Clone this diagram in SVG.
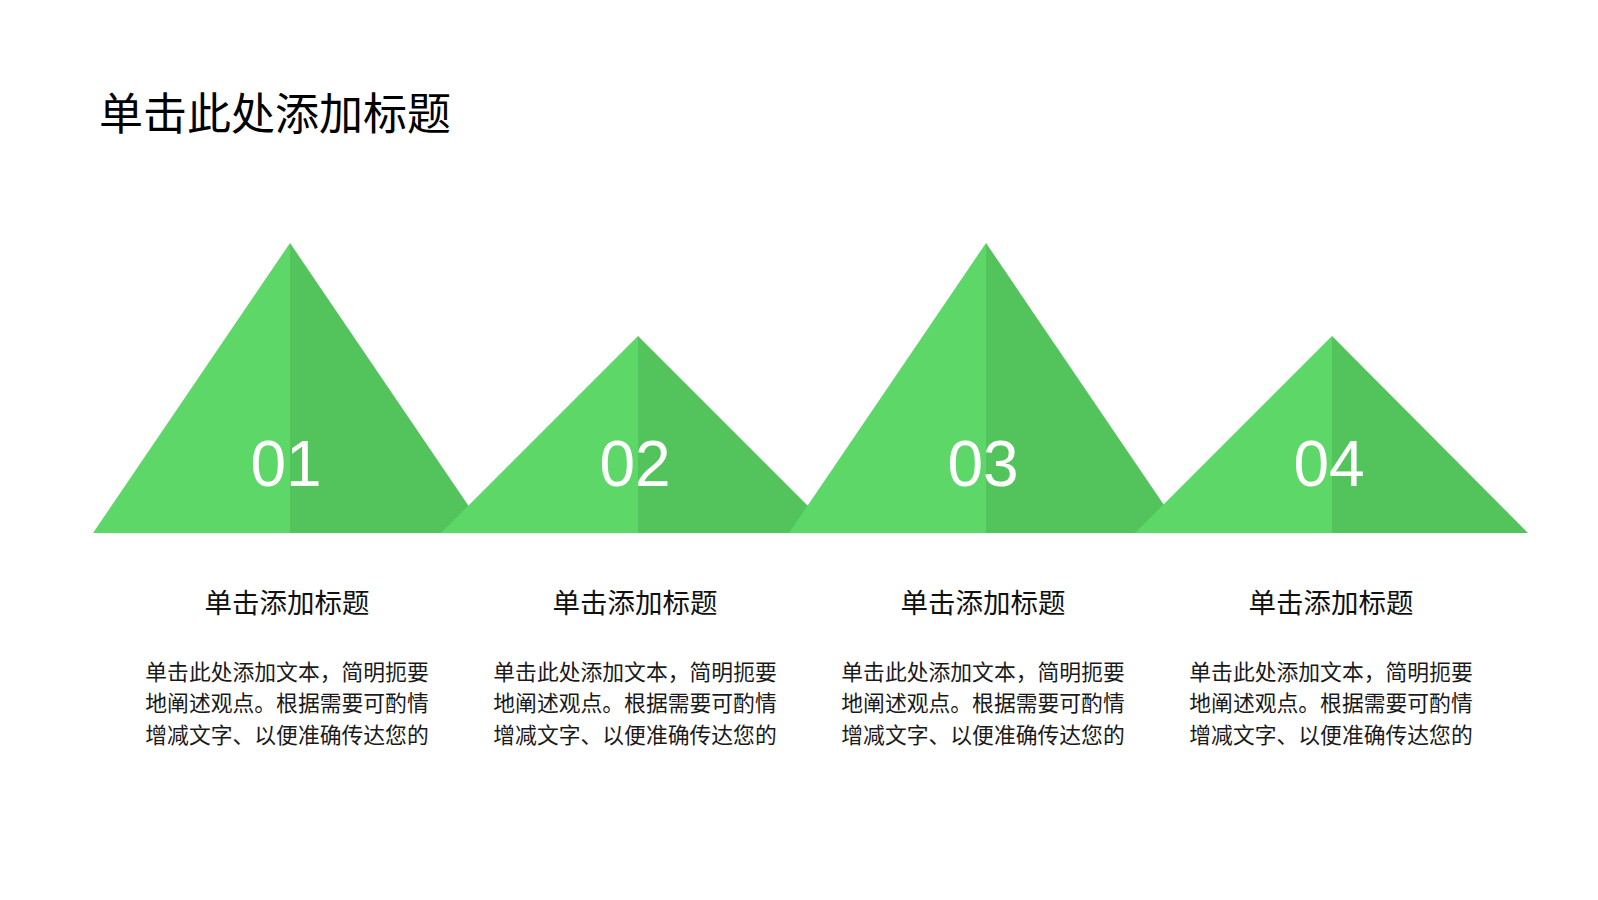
<svg xmlns="http://www.w3.org/2000/svg" width="1598" height="900" viewBox="0 0 1598 900">
<style>
.lt{fill:#5dd868}
.dk{fill:#53c45b}
.num{font-family:"Liberation Sans",Arial,sans-serif;font-size:64px;fill:#ffffff;text-anchor:middle}
.cj{font-family:"Noto Sans CJK SC","Noto Sans",sans-serif}
.title{font-size:44px;fill:#000000}
.sub{font-size:27.5px;fill:#111111;text-anchor:middle}
.body{font-size:21.8px;fill:#1a1a1a;text-anchor:middle}
</style>
<rect width="1598" height="900" fill="#ffffff"/>
<text class="cj title" x="99" y="130">单击此处添加标题</text>
<g id="node1">
<polygon class="lt" points="290,243 93,533 290,533"/>
<polygon class="dk" points="290,243 290,533 487,533"/>
<text class="num" x="286" y="486">01</text>
</g>
<g id="node2">
<polygon class="lt" points="638,336 441,533 638,533"/>
<polygon class="dk" points="638,336 638,533 835,533"/>
<text class="num" x="635" y="486">02</text>
</g>
<g id="node3">
<polygon class="lt" points="986,243 789,533 986,533"/>
<polygon class="dk" points="986,243 986,533 1183,533"/>
<text class="num" x="983" y="486">03</text>
</g>
<g id="node4">
<polygon class="lt" points="1332,336 1135,533 1332,533"/>
<polygon class="dk" points="1332,336 1332,533 1528,533"/>
<text class="num" x="1329" y="486">04</text>
</g>
<g id="label1" class="cj">
<text class="sub" x="287" y="613">单击添加标题</text>
<text class="body" x="287" y="680">单击此处添加文本，简明扼要</text>
<text class="body" x="287" y="711">地阐述观点。根据需要可酌情</text>
<text class="body" x="287" y="743">增减文字、以便准确传达您的</text>
</g>
<g id="label2" class="cj">
<text class="sub" x="635" y="613">单击添加标题</text>
<text class="body" x="635" y="680">单击此处添加文本，简明扼要</text>
<text class="body" x="635" y="711">地阐述观点。根据需要可酌情</text>
<text class="body" x="635" y="743">增减文字、以便准确传达您的</text>
</g>
<g id="label3" class="cj">
<text class="sub" x="983" y="613">单击添加标题</text>
<text class="body" x="983" y="680">单击此处添加文本，简明扼要</text>
<text class="body" x="983" y="711">地阐述观点。根据需要可酌情</text>
<text class="body" x="983" y="743">增减文字、以便准确传达您的</text>
</g>
<g id="label4" class="cj">
<text class="sub" x="1331" y="613">单击添加标题</text>
<text class="body" x="1331" y="680">单击此处添加文本，简明扼要</text>
<text class="body" x="1331" y="711">地阐述观点。根据需要可酌情</text>
<text class="body" x="1331" y="743">增减文字、以便准确传达您的</text>
</g>
<g id="connectors"/>
</svg>
